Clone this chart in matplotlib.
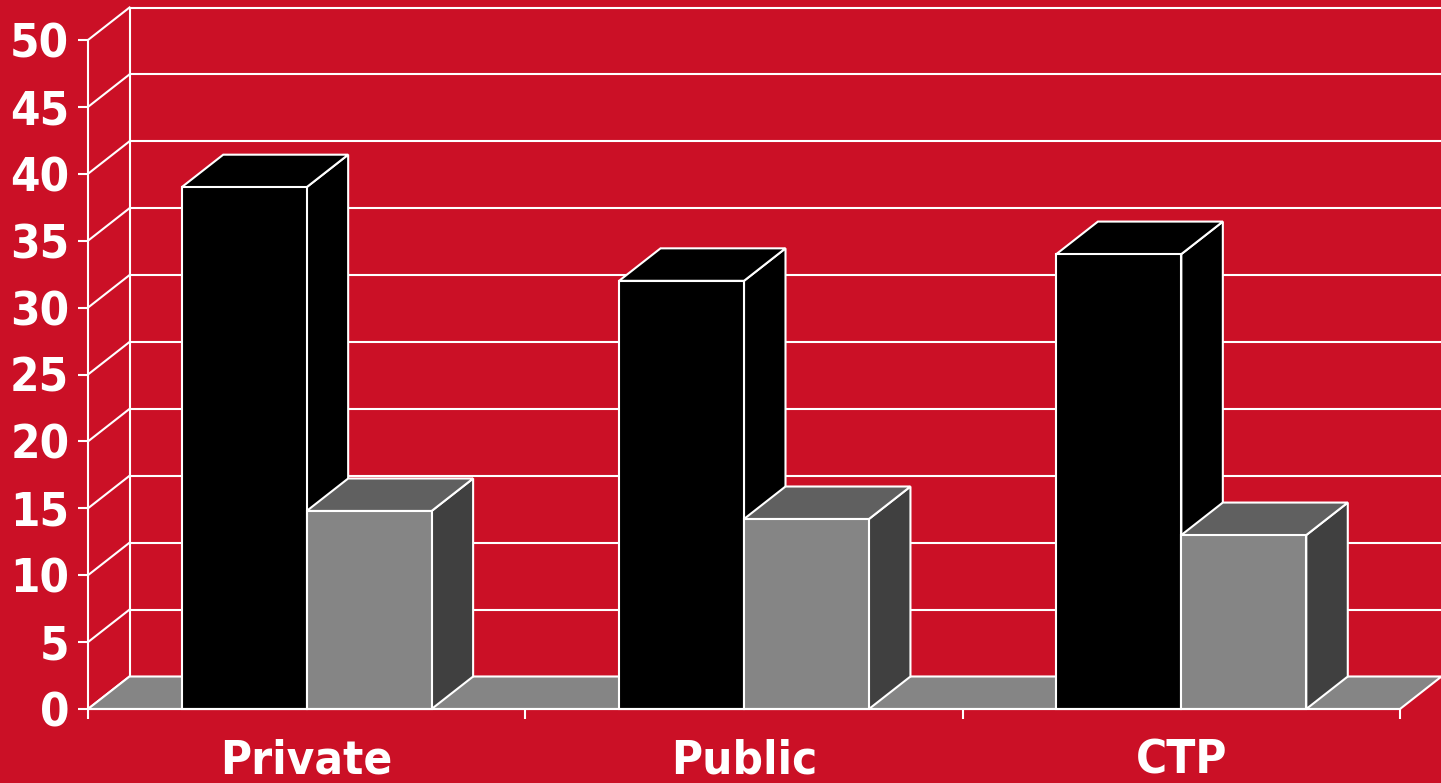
import numpy as np
import matplotlib
matplotlib.use("Agg")
import matplotlib.pyplot as plt
from matplotlib.patches import Polygon, Rectangle

# data
categories = ["Private", "Public", "CTP"]
series_a = [39.0, 32.0, 34.0]   # black bars
series_b = [14.8, 14.2, 13.0]   # grey bars
y_ticks = list(range(0, 55, 5))

RED = "#CB1026"
# (front, top, side) colours for each series
COLS_A = ("#000000", "#000000", "#000000")
COLS_B = ("#858585", "#606060", "#404040")
FLOOR = "#858585"

W, H = 1441, 783
fig = plt.figure(figsize=(W / 100, H / 100), dpi=100, facecolor=RED)
# axes = front plane of the 3d box
ax = fig.add_axes([88 / W, (H - 709) / H, 1312 / W, 669 / H])
ax.set_facecolor("none")
n = len(categories)
ax.set_xlim(0, n)
ax.set_ylim(0, 50)

# depth offset of the box, in data units
dx = 41.5 / 1312 * n
dy = 32.5 / 669 * 50
LW = 1.5
EC = "white"

def poly(pts, fc, z):
    ax.add_patch(Polygon(pts, closed=True, facecolor=fc, edgecolor=EC,
                         lw=LW, clip_on=False, zorder=z, joinstyle="miter"))

# back wall grid + left wall
for v in y_ticks:
    ax.plot([dx, n + dx + 1], [v + dy, v + dy], color=EC, lw=LW, clip_on=False, zorder=1)
    ax.plot([0, dx], [v, v + dy], color=EC, lw=LW, clip_on=False, zorder=1)
ax.plot([dx, dx], [dy, 50 + dy], color=EC, lw=LW, clip_on=False, zorder=1)

# floor
poly([(0, 0), (n, 0), (n + dx, dy), (dx, dy)], FLOOR, 2)

# bars: gap width 150%
w = 1 / 3.5
gap = 0.75 * w
z = 3
for i in range(n):
    for j, (vals, cols) in enumerate([(series_a, COLS_A), (series_b, COLS_B)]):
        x = i + gap + j * w
        h = vals[i]
        ax.add_patch(Rectangle((x, 0), w, h, facecolor=cols[0], edgecolor=EC,
                               lw=LW, clip_on=False, zorder=z + 2))
        poly([(x, h), (x + w, h), (x + w + dx, h + dy), (x + dx, h + dy)], cols[1], z + 1)
        poly([(x + w, 0), (x + w + dx, dy), (x + w + dx, h + dy), (x + w, h)], cols[2], z)
        z += 3

# axes / ticks
for s in ["top", "right"]:
    ax.spines[s].set_visible(False)
for s in ["left", "bottom"]:
    ax.spines[s].set_color(EC)
    ax.spines[s].set_linewidth(LW)
    ax.spines[s].set_zorder(50)

font = dict(family="DejaVu Sans", weight="bold", size=34, stretch="condensed")
ax.set_yticks(y_ticks)
ax.set_yticklabels([str(v) for v in y_ticks], color="white", fontdict=font)
ax.tick_params(axis="y", direction="out", length=7.5, width=LW, color=EC, pad=6)

ax.set_xticks(np.arange(n + 1))
ax.set_xticklabels([])
ax.tick_params(axis="x", which="major", direction="out", length=7.5, width=LW, color=EC)
ax.set_xticks(np.arange(n) + 0.5, minor=True)
ax.set_xticklabels(categories, minor=True, color="white", fontdict=font)
ax.tick_params(axis="x", which="minor", length=0, pad=21)

fig.savefig("out.png", dpi=100, facecolor=RED)
